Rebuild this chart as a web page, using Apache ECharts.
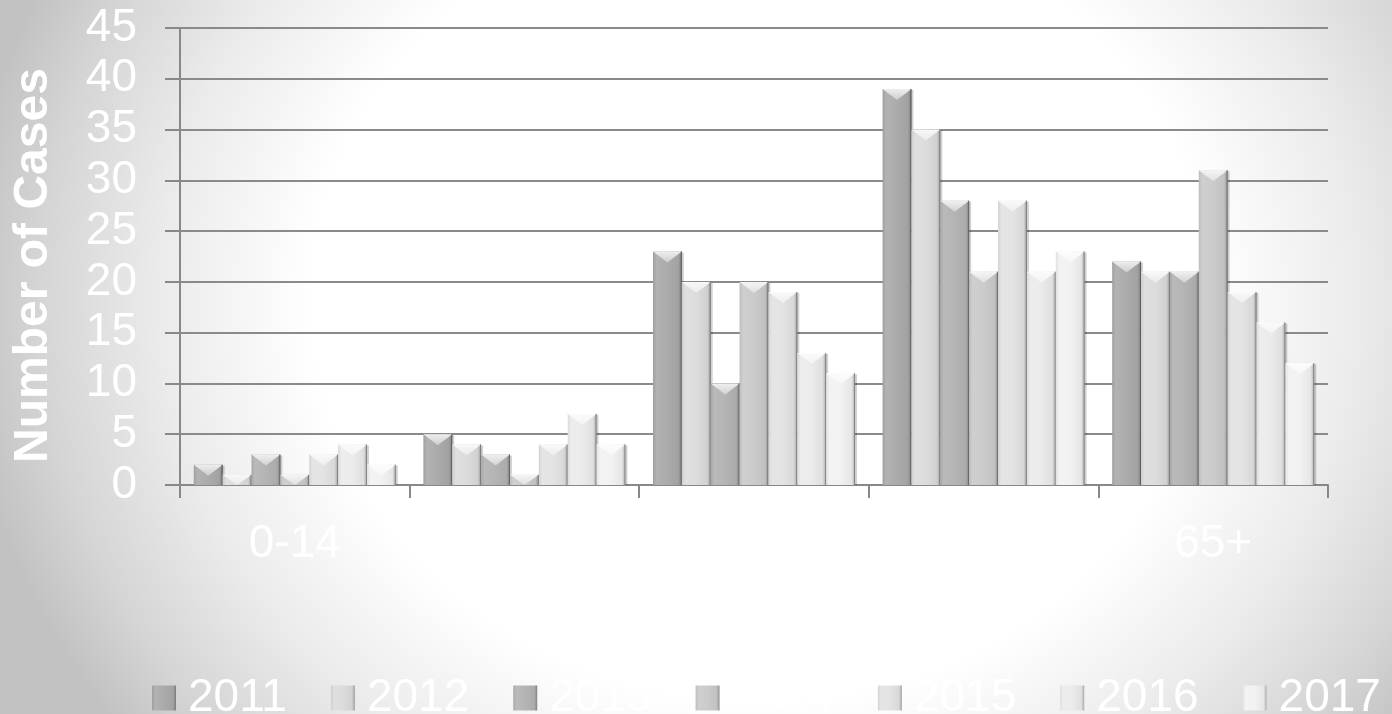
<!DOCTYPE html>
<html>
<head>
<meta charset="utf-8">
<script src="https://cdn.jsdelivr.net/npm/echarts@6/dist/echarts.min.js"></script>
<style>
html,body{margin:0;padding:0;background:#ffffff;}
#c{width:1392px;height:714px;}
</style>
</head>
<body>
<div id="c"></div>
<script>
const categories = ['0-14', '15-24', '25-44', '45-64', '65+'];
const years = ['2011', '2012', '2013', '2014', '2015', '2016', '2017'];
const s2011 = [2, 5, 23, 39, 22];
const s2012 = [1, 4, 20, 35, 21];
const s2013 = [3, 3, 10, 28, 21];
const s2014 = [1, 1, 20, 21, 31];
const s2015 = [3, 4, 19, 28, 19];
const s2016 = [4, 7, 13, 21, 16];
const s2017 = [2, 4, 11, 23, 12];
const yTicks = [0, 5, 10, 15, 20, 25, 30, 35, 40, 45];

const seriesValues = [s2011, s2012, s2013, s2014, s2015, s2016, s2017];
const baseColors = ['#ababab', '#dcdcdc', '#b4b4b4', '#cbcbcb', '#e3e3e3', '#ebebeb', '#f2f2f2'];

function shade(hex, f) {
  const n = parseInt(hex.slice(1), 16);
  let r = (n >> 16) & 255, g = (n >> 8) & 255, b = n & 255;
  const adj = c => f < 1 ? Math.round(c * f) : Math.round(c + (255 - c) * (f - 1));
  r = adj(r); g = adj(g); b = adj(b);
  return 'rgb(' + Math.min(255, r) + ',' + Math.min(255, g) + ',' + Math.min(255, b) + ')';
}
function bodyGrad(c) {
  return {type: 'linear', x: 0, y: 0, x2: 1, y2: 0, colorStops: [
    {offset: 0, color: shade(c, 0.93)},
    {offset: 0.12, color: shade(c, 1.08)},
    {offset: 0.5, color: shade(c, 1.0)},
    {offset: 0.88, color: shade(c, 0.95)},
    {offset: 1, color: shade(c, 0.72)}
  ]};
}
const font = "'Liberation Sans', Arial, sans-serif";
const GROUP = 0.88;

// elliptical background glow (page decoration)
const W = 1392, H = 714;
const RX = 800, RY = 715, CX = 760, CY = 300;
const SY = RY / RX;
const bg = {
  type: 'rect', z: -100, silent: true,
  x: 0, y: 0, scaleY: SY,
  shape: {x: 0, y: 0, width: W, height: H / SY},
  style: {fill: {type: 'radial', x: CX, y: CY / SY, r: RX, global: true, colorStops: [
    {offset: 0, color: '#ffffff'},
    {offset: 0.56, color: '#ffffff'},
    {offset: 0.75, color: '#ebebeb'},
    {offset: 0.9, color: '#d5d5d5'},
    {offset: 1, color: '#c2c2c2'}
  ]}}
};

const chart = echarts.init(document.getElementById('c'), null, {renderer: 'canvas'});

const series = years.map((y, si) => ({
  name: y,
  type: 'custom',
  itemStyle: {color: bodyGrad(baseColors[si])},
  encode: {x: 0, y: 1},
  data: seriesValues[si].map((v, i) => [i, v]),
  renderItem: function (params, api) {
    const ci = api.value(0), v = api.value(1);
    const base = api.coord([ci, 0]);
    const top = api.coord([ci, v]);
    const band = api.size([1, 0])[0];
    const gw = band * GROUP;
    const bw = gw / years.length;
    const x = base[0] - gw / 2 + si * bw;
    const h = base[1] - top[1];
    const d = Math.min(11, h);
    const c = baseColors[si];
    return {
      type: 'group',
      children: [
        {type: 'rect', shape: {x: x + 2, y: top[1] + 1, width: bw, height: h - 1},
          style: {fill: 'rgba(0,0,0,0.18)'}},
        {type: 'rect', shape: {x: x, y: top[1], width: bw, height: h},
          style: {fill: bodyGrad(c)}},
        {type: 'polygon', shape: {points: [[x, top[1]], [x + bw, top[1]], [x + bw / 2, top[1] + d]]},
          style: {fill: {type: 'linear', x: 0, y: 0, x2: 0, y2: 1, colorStops: [
            {offset: 0, color: shade(c, 1.8)}, {offset: 1, color: shade(c, 1.4)}]}}},
        {type: 'line', shape: {x1: x + bw - 0.5, y1: top[1], x2: x + bw - 0.5, y2: base[1]},
          style: {stroke: shade(c, 0.55), lineWidth: 1}}
      ]
    };
  }
}));

chart.setOption({
  backgroundColor: 'transparent',
  animation: false,
  graphic: [bg],
  grid: {left: 180, right: 64, top: 28, bottom: 229, containLabel: false},
  legend: {
    data: years,
    left: 147, top: 670,
    icon: 'rect',
    itemWidth: 24, itemHeight: 25, itemGap: 44,
    textStyle: {color: '#ffffff', fontSize: 46, fontFamily: font, padding: [0, 0, 0, 7]}
  },
  xAxis: {
    type: 'category',
    data: categories,
    boundaryGap: true,
    name: 'Age Groups',
    nameLocation: 'middle',
    nameGap: 108,
    nameTextStyle: {color: '#ffffff', fontSize: 44, fontFamily: font, padding: [0, 0, 0, 92]},
    axisLine: {show: true, lineStyle: {color: '#888888', width: 2}},
    axisTick: {show: true, length: 13, lineStyle: {color: '#888888', width: 2}},
    axisLabel: {color: '#ffffff', fontSize: 46, fontFamily: font, margin: 36},
    splitLine: {show: false}
  },
  yAxis: {
    type: 'value',
    min: 0, max: 45, interval: 5,
    name: 'Number of Cases',
    nameLocation: 'middle',
    nameGap: 122,
    nameRotate: 90,
    nameTextStyle: {color: '#ffffff', fontSize: 48, fontWeight: 'bold', fontFamily: font, padding: [0, 18, 0, 0]},
    axisLine: {show: true, lineStyle: {color: '#888888', width: 2}},
    axisTick: {show: true, length: 15, lineStyle: {color: '#888888', width: 2}},
    axisLabel: {color: '#ffffff', fontSize: 46, fontFamily: font, margin: 43,
      formatter: v => yTicks.indexOf(v) >= 0 ? String(v) : ''},
    splitLine: {show: true, lineStyle: {color: '#8a8a8a', width: 2}}
  },
  series: series
});
</script>
</body>
</html>
